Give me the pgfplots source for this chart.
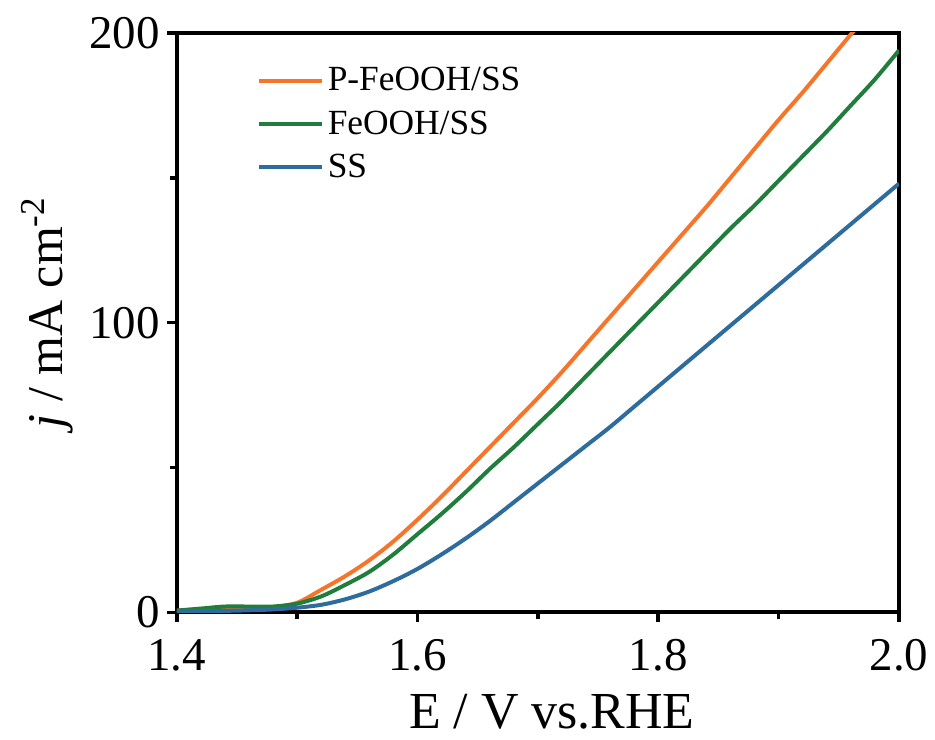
\documentclass[border=0pt]{standalone}
\usepackage{fontspec}
\setmainfont{Liberation Serif}
\usepackage{pgfplots}
\pgfplotsset{compat=1.18}
\definecolor{cOrange}{RGB}{245,118,42}
\definecolor{cGreen}{RGB}{32,125,60}
\definecolor{cBlue}{RGB}{46,108,158}
\begin{document}
\begin{tikzpicture}
\begin{axis}[
  scale only axis,
  anchor=south west, at={(0pt,0pt)},
  width=361.5pt, height=290pt,
  xmin=1.4, xmax=2.0, ymin=0, ymax=200,
  xtick={1.4,1.6,1.8,2.0},
  xticklabels={1.4,1.6,1.8,2.0},
  ytick={0,100,200},
  minor xtick={1.5,1.7,1.9},
  minor ytick={50,150},
  tick pos=left,
  tick align=outside,
  major tick length=5pt,
  minor tick length=3.5pt,
  every tick/.style={black, line width=1.8pt},
  axis line style={line width=2pt},
  /pgf/number format/assume math mode=true,
  ticklabel style={font=\fontsize{23.5}{26}\selectfont},
  xticklabel style={yshift=-5pt},
  xlabel={E / V vs.RHE},
  ylabel={\textit{j} / mA cm\textsuperscript{-2}},
  label style={font=\fontsize{25}{28}\selectfont},
  xlabel style={font=\fontsize{26}{29}\selectfont, yshift=-4.5pt, xshift=7pt},
  ylabel style={yshift=1pt, xshift=5pt},
  legend style={draw=none, fill=none, at={(0.102,0.955)}, anchor=north west,
    font=\fontsize{17.7}{20}\selectfont, row sep=4.5pt,
    /tikz/every even column/.append style={column sep=5pt}},
  legend cell align=left,
  legend image code/.code={\draw[#1, line width=2pt] (0pt,0pt) -- (31.5pt,0pt);},
  every axis plot/.append style={line width=2pt, line join=round, smooth, tension=0.5},
  clip=true,
]
\addplot[cOrange] coordinates {
(1.40,0.6) (1.42,1.0) (1.44,1.3) (1.46,1.3) (1.48,1.8) (1.50,3.3)
(1.52,7.8) (1.54,12.5) (1.56,18) (1.58,24.5) (1.60,32) (1.62,40)
(1.64,48.5) (1.66,57) (1.68,65.5) (1.70,74) (1.72,83) (1.74,92.5)
(1.76,102) (1.78,111.5) (1.80,121) (1.82,130.5) (1.84,140) (1.86,150)
(1.88,160) (1.90,170) (1.92,179.5) (1.94,189.5) (1.96,199.5) (1.97,204)
};
\addlegendentry{P-FeOOH/SS}
\addplot[cGreen] coordinates {
(1.40,0.6) (1.42,1.3) (1.44,2.0) (1.46,2.0) (1.48,2.0) (1.50,3.0)
(1.52,5.5) (1.54,9.5) (1.56,14) (1.58,20) (1.60,27) (1.62,34)
(1.64,41.5) (1.66,49.5) (1.68,57) (1.70,65) (1.72,73) (1.74,81.5)
(1.76,90) (1.78,98.5) (1.80,107) (1.82,115.5) (1.84,124) (1.86,132.5)
(1.88,140.5) (1.90,149) (1.92,157.5) (1.94,166) (1.96,175) (1.98,184)
(2.00,194)
};
\addlegendentry{FeOOH/SS}
\addplot[cBlue] coordinates {
(1.40,0.3) (1.42,0.4) (1.44,0.5) (1.46,0.7) (1.48,1.0) (1.50,1.6)
(1.52,2.6) (1.54,4.5) (1.56,7.2) (1.58,10.8) (1.60,15) (1.62,20)
(1.64,25.5) (1.66,31.5) (1.68,38) (1.70,44.5) (1.72,51) (1.74,57.5)
(1.76,64) (1.78,71) (1.80,78) (1.82,85) (1.84,92) (1.86,99)
(1.88,106) (1.90,113) (1.92,120) (1.94,127) (1.96,134) (1.98,141)
(2.00,148)
};
\addlegendentry{SS}
\end{axis}
\useasboundingbox (-88.5pt,-63.5pt) rectangle (379pt,306.5pt);
\end{tikzpicture}
\end{document}
